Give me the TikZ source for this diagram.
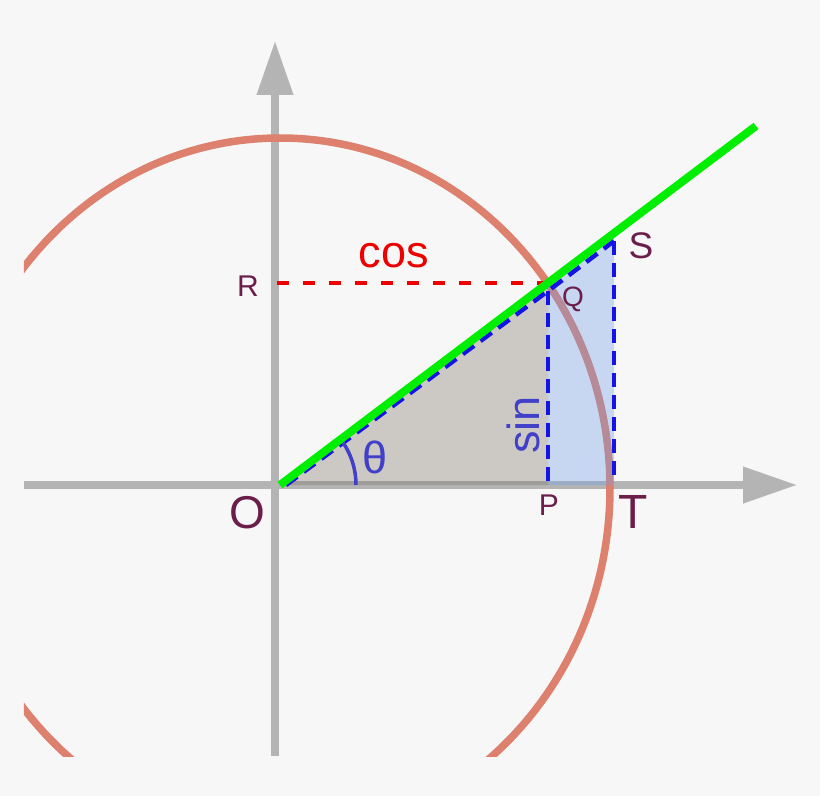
\documentclass[tikz,border=0pt]{standalone}
\usepackage{fontspec}
\setmainfont{Liberation Sans}
\usepackage{xcolor}
\usetikzlibrary{arrows.meta}

\definecolor{bggray}{RGB}{247,247,247}
\definecolor{axisgray}{RGB}{180,180,180}
\definecolor{circlesalmon}{RGB}{221,128,110}
\definecolor{linegreen}{RGB}{0,238,0}
\definecolor{dashblue}{RGB}{20,20,230}
\definecolor{textblue}{RGB}{64,64,200}
\definecolor{labelpurple}{RGB}{108,30,74}
\definecolor{cosred}{RGB}{238,0,0}
\definecolor{sinfill}{RGB}{110,158,230}
\definecolor{trifill}{RGB}{124,113,101}

\begin{document}
\begin{tikzpicture}[x=1pt,y=1pt]
		\tikzstyle{axis}=[draw=axisgray, line width=8pt, -{Triangle[length=53pt,width=37pt,line width=0.1pt]}]
		\tikzstyle{unit_circle}=[draw=circlesalmon, line width=7.5pt]
		\tikzstyle{ray}=[draw=linegreen, line width=8pt]
		\tikzstyle{side}=[draw=dashblue, line width=4.5pt, dash pattern=on 14pt off 8pt]
		\tikzstyle{cos_side}=[draw=red!93!black, line width=4.5pt, dash pattern=on 12pt off 14pt]
		\tikzstyle{region}=[fill opacity=0.35]
		\tikzstyle{point_text}=[text=labelpurple, inner sep=0pt]
		\tikzstyle{fn_text}=[inner sep=0pt, font=\fontsize{45}{52}\selectfont]

	\fill[bggray] (-280,-311) rectangle (540,485);
	\useasboundingbox (-280,-311) rectangle (540,485);
	\clip (-256,-271) rectangle (540,485);

	% points of the figure
	\coordinate (O) at (0,0);
	\coordinate (P) at (268,0);
	\coordinate (Q) at (268,202);
	\coordinate (S) at (334,252);
	\coordinate (T) at (334,0);
	\coordinate (R) at (-3,202);
	\coordinate (ray_end) at (476,359);
	\coordinate (Od) at (6,0);
	\coordinate (Qd) at (268,194);
	\coordinate (Sd) at (334,244);
	\coordinate (Pd) at (268,4);
	\coordinate (Td) at (334,4);

	% axes
	\coordinate (x_from) at (-256,0);
	\coordinate (x_to) at (516,0);
	\coordinate (y_from) at (-5,-271);
	\coordinate (y_to) at (-5,443);
	\draw[axis] (x_from) -- (x_to);
	\draw[axis] (y_from) -- (y_to);

	\draw[unit_circle] (0,-3) ellipse [x radius=330, y radius=350];

	\fill[region, trifill] (O) -- (Q) -- (P) -- cycle;
	\fill[region, sinfill] (P) -- (Q) -- (S) -- (T) -- cycle;

	\draw[cos_side] (R) -- (Q);
	\draw[side] (Od) -- (Qd) -- (Sd);
	\draw[side] (Qd) -- (Pd);
	\draw[side] (Sd) -- (Td);

	\draw[draw=textblue, line width=3.5pt] (76,0) arc [start angle=0, end angle=37, radius=76];

	\draw[ray] (O) -- (ray_end);

	% labels
	\node[point_text, font=\fontsize{30}{36}\selectfont] (R_text) at (-32,199) {R};
	\node[point_text, font=\fontsize{28}{34}\selectfont] (Q_text) at (293,186) {Q};
	\node[point_text, font=\fontsize{37}{44}\selectfont] (S_text) at (361,239) {S};
	\node[point_text, font=\fontsize{30}{36}\selectfont] (P_text) at (269,-20) {P};
	\node[point_text, font=\fontsize{48}{56}\selectfont] (T_text) at (353,-27) {T};
	\node[point_text, font=\fontsize{46}{52}\selectfont] (O_text) at (-33,-28) {O};
	\node[fn_text, text=cosred] (cos_text) at (114,229) {cos};
	\node[fn_text, text=textblue, rotate=90] (sin_text) at (243,60) {sin};
	\node[fn_text, text=textblue] (theta_text) at (95,28) {θ};

\end{tikzpicture}
\end{document}
